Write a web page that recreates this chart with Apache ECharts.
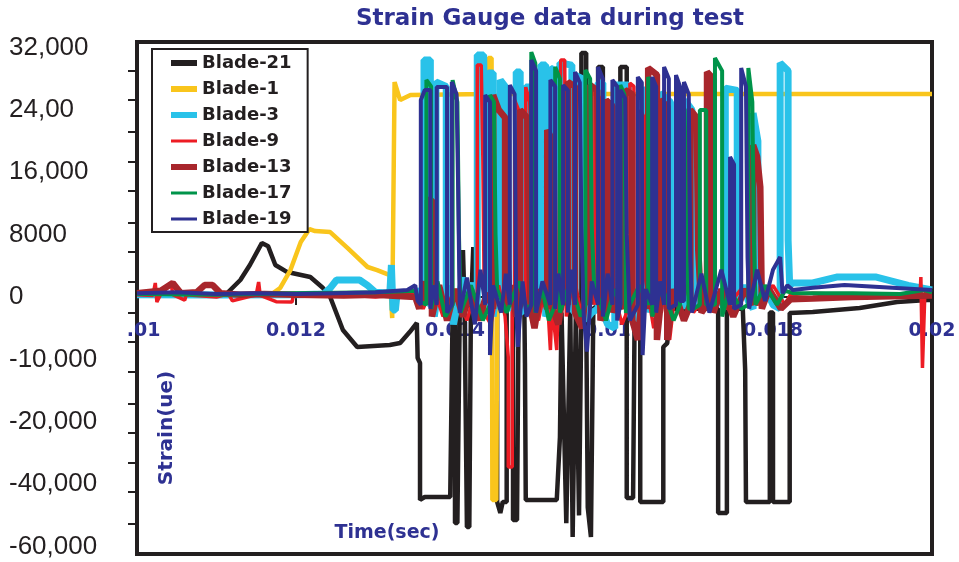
<!DOCTYPE html>
<html>
<head>
<meta charset="utf-8">
<title>Strain Gauge data during test</title>
<script src="https://cdn.jsdelivr.net/npm/echarts@6.0.0/dist/echarts.min.js"></script>
<style>
  html, body { margin: 0; padding: 0; background: #fff; }
  #chart { width: 959px; height: 562px; }
</style>
</head>
<body>
<div id="chart"></div>
<script>
// tick labels as printed on the original figure
var yLabelValues = [32000, 24000, 16000, 8000, 0, -8000, -16000, -24000, -32000];
var yLabelText = ['32,000', '24,00', '16,000', '8000', '0', '-10,000', '-20,000', '-40,000', '-60,000'];
var yTickValues = [28970, 25250, 21150, 17310, 13590, 9490, 5770, 1920, -2050, -5770, -9620, -13720, -17440, -21280, -25000, -29100];
var xTickLabels = ['.01', '0.012', '0.014', '0.016', '0.018', '0.02'];

var seriesNames = ['Blade-21', 'Blade-1', 'Blade-3', 'Blade-9', 'Blade-13', 'Blade-17', 'Blade-19'];

// [time (s), strain]
var blade21 = [
  [0.01000, 250], [0.01029, 300], [0.01054, 150], [0.01079, 250], [0.01111, 260], [0.01130, 2180], [0.01142, 4100],
  [0.01157, 6920], [0.01165, 6500], [0.01174, 4100], [0.01189, 3200], [0.01218, 2560], [0.01234, 1150], [0.01243, 0],
  [0.01259, -4230], [0.01277, -6410], [0.01318, -6150], [0.01331, -5900], [0.01343, -4490], [0.01352, -3330],
  [0.01353, -7820], [0.01356, -8460], [0.01356, -26020], [0.01362, -25640], [0.01394, -25640], [0.01397, -2000],
  [0.01400, -2000], [0.01400, -28970], [0.01403, -28970], [0.01406, -1500], [0.01410, 6030], [0.01412, -1000],
  [0.01415, -29490], [0.01418, -29490], [0.01420, -1500], [0.01423, 6410], [0.01426, -1000], [0.01444, -1500],
  [0.01453, -1500], [0.01453, -26280], [0.01457, -27690], [0.01460, -26280], [0.01465, -26280], [0.01465, 9870],
  [0.01470, -1500], [0.01473, -1500], [0.01473, -28590], [0.01478, -28590], [0.01480, -1500], [0.01486, 9490],
  [0.01488, -8460], [0.01489, -26020], [0.01528, -26020], [0.01532, -17950], [0.01534, -2000], [0.01540, -29000],
  [0.01545, -1500], [0.01548, -30770], [0.01552, -2000], [0.01556, -28000], [0.01559, -1500], [0.01559, 31280],
  [0.01565, 31280], [0.01565, -1500], [0.01567, -27000], [0.01571, -30770], [0.01574, -1500],
  [0.01580, -1000], [0.01580, 29490], [0.01586, 29490], [0.01586, -1000], [0.01608, -1500],
  [0.01608, 29490], [0.01616, 29490], [0.01616, -25770], [0.01624, -25770], [0.01626, -1500], [0.01633, -1500],
  [0.01633, -26280], [0.01662, -26280], [0.01662, -6410], [0.01667, -5900], [0.01670, -1500], [0.01731, -1500],
  [0.01731, -27690], [0.01742, -27690], [0.01742, -1500], [0.01762, -1500], [0.01765, -9360], [0.01766, -26280],
  [0.01796, -26280], [0.01796, -2000], [0.01800, -2000], [0.01800, -26280], [0.01821, -26280], [0.01821, -2050],
  [0.01850, -1920], [0.01909, -1410], [0.01956, -640], [0.01994, -380], [0.02000, -380]
];

var blade1 = [
  [0.01000, 300], [0.01100, 200], [0.01170, 400], [0.01180, 1150], [0.01193, 3460], [0.01206, 7050], [0.01217, 8720],
  [0.01224, 8460], [0.01243, 8330], [0.01265, 6280], [0.01290, 3850], [0.01302, 3460], [0.01318, 2820], [0.01320, 2820],
  [0.01321, -2700], [0.01323, -2700], [0.01324, 27560], [0.01331, 25250], [0.01344, 25900], [0.01440, 26020],
  [0.01442, 30640], [0.01446, 30640], [0.01447, -26020], [0.01452, -26020], [0.01454, 26020], [0.02000, 26020]
];

var blade3 = [
  [0.01000, 300], [0.01100, 250], [0.01200, 300], [0.01235, 400], [0.01243, 1150], [0.01251, 2180], [0.01280, 2180],
  [0.01290, 1500], [0.01300, 600], [0.01318, 500], [0.01320, 4100], [0.01322, -1670], [0.01325, -1670], [0.01327, 300],
  [0.01345, 500], [0.01355, 800],
  [0.01361, -800], [0.01361, 30380], [0.01369, 30380], [0.01369, -1200], [0.01372, 2000], [0.01374, -2500],
  [0.01376, -1000], [0.01376, 27560], [0.01389, 27000], [0.01389, -2000], [0.01393, 1500], [0.01398, -3500],
  [0.01410, 2500], [0.01415, -1000], [0.01422, 1800],
  [0.01428, -1500], [0.01428, 31020], [0.01436, 31020], [0.01438, 20000], [0.01440, -1000],
  [0.01442, -1500], [0.01442, 28720], [0.01448, 28720], [0.01448, -2500], [0.01452, 1000],
  [0.01457, -1500], [0.01457, 27820], [0.01463, 27000], [0.01465, 12000], [0.01467, -1500],
  [0.01477, -1000], [0.01477, 28850], [0.01482, 28850], [0.01482, -2000],
  [0.01489, -1500], [0.01489, 26920], [0.01494, 26920], [0.01494, -1000], [0.01500, -3000], [0.01505, -1000],
  [0.01508, -1500], [0.01508, 29740], [0.01514, 29740], [0.01514, -2500],
  [0.01520, -1000], [0.01520, 29360], [0.01527, 29000], [0.01529, 15000], [0.01530, -2000],
  [0.01532, -1500], [0.01532, 30000], [0.01547, 29740], [0.01547, -1500],
  [0.01551, -2000], [0.01551, 28460], [0.01560, 28000], [0.01562, 10000], [0.01564, -3000], [0.01572, -2000],
  [0.01580, -1500], [0.01580, 27430], [0.01586, 27430], [0.01586, -2000], [0.01592, -3500],
  [0.01601, -4000], [0.01601, 27180], [0.01618, 27180], [0.01618, -1500], [0.01625, -3500], [0.01632, 1000],
  [0.01637, -1000], [0.01637, 26540], [0.01645, 26540], [0.01645, -2000], [0.01652, 1000],
  [0.01658, -1500], [0.01658, 26150], [0.01671, 25000], [0.01671, -1500], [0.01680, 1500],
  [0.01689, -1500], [0.01689, 25250], [0.01698, 24000], [0.01700, 8000], [0.01702, -1000], [0.01710, -1000],
  [0.01720, 1500],
  [0.01740, -1500], [0.01740, 26790], [0.01755, 26500], [0.01755, -1000], [0.01762, 1500], [0.01770, -800],
  [0.01775, -1500], [0.01775, 23590], [0.01781, 20000], [0.01781, -500], [0.01790, 1200], [0.01800, -1000],
  [0.01809, -1500], [0.01809, 30000], [0.01819, 29000], [0.01819, 7300], [0.01821, 1500],
  [0.01825, 1800], [0.01850, 1800], [0.01880, 2560], [0.01930, 2560], [0.01970, 1500], [0.02000, 900]
];

var blade9 = [
  [0.01000, 300], [0.01020, 200], [0.01023, 1800], [0.01025, -640], [0.01030, 400], [0.01043, 1800], [0.01045, 300],
  [0.01060, -400], [0.01062, 300], [0.01100, 0], [0.01115, 400], [0.01120, -500], [0.01150, 300], [0.01153, 1920],
  [0.01155, 200], [0.01175, -600], [0.01195, -640], [0.01197, 300], [0.01230, 100], [0.01260, 300], [0.01300, 0],
  [0.01340, 400], [0.01350, 500], [0.01360, -1500], [0.01372, 1500], [0.01385, -2500], [0.01400, 1000],
  [0.01415, -3000], [0.01425, 500],
  [0.01428, -1000], [0.01428, 29740], [0.01433, 29740], [0.01435, 18000], [0.01437, -2000], [0.01445, -3500],
  [0.01455, 1500], [0.01463, -2500], [0.01467, -7700], [0.01467, -21800], [0.01472, -21800], [0.01472, -2000],
  [0.01475, -1000], [0.01475, 25250], [0.01480, 24000], [0.01480, 1500],
  [0.01489, -1000], [0.01489, 26920], [0.01494, 25000], [0.01496, 16000], [0.01498, -1500],
  [0.01505, -3000], [0.01515, 2000], [0.01520, -6800], [0.01522, -1000], [0.01528, -6800], [0.01530, -500],
  [0.01533, 30380], [0.01538, 30380], [0.01540, -2500], [0.01550, 2500], [0.01560, -3000], [0.01570, 3000],
  [0.01576, -1000], [0.01576, 26540], [0.01582, 25500], [0.01584, -2500], [0.01598, 1500], [0.01610, -3500],
  [0.01620, -1000], [0.01620, 27430], [0.01625, 27000], [0.01625, -2000],
  [0.01633, -1000], [0.01633, 24000], [0.01638, 23000], [0.01640, 2000], [0.01650, -4000], [0.01660, 1500],
  [0.01670, -5500], [0.01675, -1000], [0.01690, 1500], [0.01700, -2000], [0.01720, 1000], [0.01740, -1500],
  [0.01760, 1000], [0.01780, -1000], [0.01800, 1500], [0.01815, -1000],
  [0.01822, 300], [0.01850, 500], [0.01900, 300], [0.01950, 200], [0.01985, 300], [0.01986, 2560],
  [0.01988, -9100], [0.01990, -9100], [0.01991, 500], [0.02000, 500]
];

var blade13 = [
  [0.01000, 500], [0.01030, 800], [0.01045, 1800], [0.01055, 500], [0.01075, 600], [0.01085, 1540], [0.01095, 1540],
  [0.01105, 500], [0.01130, 300], [0.01160, 400], [0.01200, 300], [0.01260, 200], [0.01300, 300], [0.01350, 0],
  [0.01355, -1500], [0.01362, 2000],
  [0.01366, -1000], [0.01366, 12440], [0.01371, 12440], [0.01371, -2500], [0.01380, 1500], [0.01390, -3000],
  [0.01400, 1000], [0.01410, -2500], [0.01420, 1000], [0.01430, -3000], [0.01440, 500],
  [0.01448, -1500], [0.01448, 25900], [0.01455, 24000], [0.01463, 23000], [0.01463, -2000], [0.01470, 1500],
  [0.01477, -2500],
  [0.01482, -1000], [0.01482, 23970], [0.01491, 23000], [0.01493, 8000], [0.01495, -1500], [0.01500, -4000],
  [0.01508, 1000],
  [0.01516, -1500], [0.01516, 21410], [0.01523, 20000], [0.01523, -1500], [0.01530, -3500], [0.01537, 1000],
  [0.01542, -1000], [0.01542, 27560], [0.01551, 27000], [0.01551, -2000], [0.01560, -4000], [0.01565, 1500],
  [0.01570, -1000], [0.01570, 27180], [0.01579, 26500], [0.01581, 12000], [0.01583, -3000],
  [0.01590, -1000], [0.01590, 25250], [0.01598, 24500], [0.01598, -2000], [0.01605, 1000],
  [0.01614, -1500], [0.01614, 26540], [0.01623, 26000], [0.01623, -3000], [0.01630, -5500], [0.01636, 1000],
  [0.01643, -1500], [0.01643, 29360], [0.01654, 28500], [0.01654, -5500],
  [0.01658, -1500], [0.01658, 25250], [0.01667, 24500], [0.01667, -5500], [0.01675, 1000], [0.01688, -3000],
  [0.01696, -1000], [0.01696, 24000], [0.01704, 23000], [0.01706, 6000], [0.01710, -2000],
  [0.01717, -1000], [0.01717, 28850], [0.01725, 28000], [0.01725, -2000], [0.01735, 1000], [0.01750, -2500],
  [0.01765, 1000], [0.01775, -1000], [0.01775, 19490], [0.01780, 18000], [0.01784, 14100], [0.01786, -1500],
  [0.01795, 1000], [0.01810, -1500],
  [0.01822, -300], [0.01850, -200], [0.01900, 0], [0.01950, 100], [0.02000, 200]
];

var blade17 = [
  [0.01000, 400], [0.01100, 300], [0.01200, 500], [0.01300, 600], [0.01350, 800], [0.01355, -500],
  [0.01364, -1000], [0.01364, 27820], [0.01370, 27000], [0.01370, -1500], [0.01378, 2000], [0.01388, -2500],
  [0.01397, -1000], [0.01397, 27820], [0.01403, 25000], [0.01405, 8000], [0.01407, -2000], [0.01420, 1500],
  [0.01435, -3000],
  [0.01444, -1000], [0.01444, 25900], [0.01449, 25000], [0.01451, 8000], [0.01453, 1000], [0.01465, -2000],
  [0.01480, 2000], [0.01490, -1500],
  [0.01496, -1000], [0.01496, 31410], [0.01501, 30000], [0.01501, -2000], [0.01510, 1000], [0.01518, -3000],
  [0.01526, -1000], [0.01526, 29490], [0.01532, 28000], [0.01532, -2000], [0.01545, 2000], [0.01558, -2500],
  [0.01564, -1000], [0.01564, 29100], [0.01570, 28000], [0.01572, 9000], [0.01575, 1500], [0.01590, -3000],
  [0.01600, 1000],
  [0.01608, -1000], [0.01608, 27180], [0.01613, 26000], [0.01615, -2000], [0.01632, 1500],
  [0.01643, -1000], [0.01643, 28200], [0.01648, 27000], [0.01648, -2500], [0.01660, 1500], [0.01675, -3000],
  [0.01683, -1000], [0.01683, 25250], [0.01689, 24000], [0.01691, 6000], [0.01694, -1500], [0.01700, -1500],
  [0.01708, -1000], [0.01708, 23970], [0.01716, 23970], [0.01716, -1000],
  [0.01727, -1000], [0.01727, 30640], [0.01736, 29000], [0.01736, -2500], [0.01745, 1000], [0.01760, -1500],
  [0.01769, -1000], [0.01769, 29360], [0.01774, 25000], [0.01776, 7300], [0.01778, -1000], [0.01790, 1500],
  [0.01805, -1000], [0.01815, 800],
  [0.01825, 500], [0.01900, 500], [0.01960, 400], [0.01990, 900], [0.02000, 600]
];

var blade19 = [
  [0.01000, 500], [0.01050, 600], [0.01100, 400], [0.01150, 500], [0.01200, 400], [0.01250, 500], [0.01300, 600],
  [0.01340, 900], [0.01350, 1500], [0.01353, -500],
  [0.01357, -1000], [0.01357, 25250], [0.01362, 26540], [0.01369, 26540], [0.01369, -1500], [0.01373, 1500],
  [0.01377, -1000], [0.01377, 26920], [0.01390, 26920], [0.01390, -2000],
  [0.01396, -1000], [0.01396, 27560], [0.01402, 26000], [0.01404, 13700], [0.01406, -2000], [0.01415, 2500],
  [0.01425, -3500], [0.01432, 3500],
  [0.01438, -1000], [0.01438, 25900], [0.01444, 25000], [0.01444, -7440], [0.01448, 1500], [0.01458, -2000],
  [0.01464, 3000],
  [0.01469, -1000], [0.01469, 27180], [0.01475, 26000], [0.01477, -1500], [0.01479, -6400], [0.01485, 2000],
  [0.01490, -2500],
  [0.01496, -1000], [0.01496, 30380], [0.01502, 29000], [0.01502, -2000], [0.01510, 2000],
  [0.01520, -1000], [0.01520, 27820], [0.01526, 27000], [0.01526, -1500], [0.01530, 3000],
  [0.01536, -1000], [0.01536, 27180], [0.01542, 26500], [0.01542, -2000], [0.01547, 3500],
  [0.01551, -1000], [0.01551, 28850], [0.01557, 27500], [0.01559, 9000], [0.01562, -2500], [0.01566, -7000],
  [0.01572, 2000],
  [0.01580, -1000], [0.01580, 29490], [0.01586, 28000], [0.01586, -2500], [0.01592, 3000],
  [0.01598, -1000], [0.01598, 27820], [0.01604, 27000], [0.01604, -3000],
  [0.01608, -1000], [0.01608, 26540], [0.01614, 25500], [0.01616, 8000], [0.01620, -3000],
  [0.01630, -1000], [0.01630, 28200], [0.01635, 27500], [0.01636, -7440], [0.01640, 1000],
  [0.01648, -1000], [0.01648, 28200], [0.01653, 27000], [0.01653, -2000], [0.01658, 2000],
  [0.01663, -1000], [0.01663, 29490], [0.01669, 28000], [0.01669, -1500],
  [0.01678, -1000], [0.01678, 28460], [0.01683, 27000], [0.01683, -500],
  [0.01688, -500], [0.01688, 27560], [0.01694, 26000], [0.01696, 5000], [0.01698, -2000], [0.01710, 3000],
  [0.01720, -2000], [0.01735, 3500], [0.01746, -1000], [0.01746, 17950], [0.01751, 17000], [0.01751, -1500],
  [0.01760, -1000], [0.01760, 29360], [0.01766, 27000], [0.01768, 5000], [0.01770, -1500], [0.01780, 3500],
  [0.01790, -500], [0.01800, 3500], [0.01809, 5130], [0.01812, 500], [0.01818, 1500],
  [0.01825, 900], [0.01850, 1200], [0.01890, 1540], [0.01950, 1200], [0.02000, 900]
];

var seriesData = [blade21, blade1, blade3, blade9, blade13, blade17, blade19];
var seriesColors = ['#231f20', '#f9c51c', '#29c2e9', '#ed1c24', '#a8262c', '#00944a', '#2e3192'];
var lineWidths = [4.5, 4.5, 7, 3.5, 6.5, 4, 4];
// legend swatches: thick bar or thin bar, drawn in a 26x20 box
var thickIcon = 'path://M0,0L0,20ZM0,7H26V13H0Z';
var thinIcon = 'path://M0,0L0,20ZM0,8.5H26V11.5H0Z';
var legendIcons = [thickIcon, thickIcon, thickIcon, thinIcon, thickIcon, thinIcon, thinIcon];

var blue = '#2e3192';
var chart = echarts.init(document.getElementById('chart'));

var series = [];
var legendData = [];
for (var i = 0; i < seriesNames.length; i++) {
  series.push({
    name: seriesNames[i],
    type: 'line',
    data: seriesData[i],
    symbol: 'none',
    smooth: false,
    color: seriesColors[i],
    lineStyle: { width: lineWidths[i], color: seriesColors[i] }
  });
  legendData.push({ name: seriesNames[i], icon: legendIcons[i], itemStyle: { color: seriesColors[i], borderWidth: 0 } });
}

var option = {
  animation: false,
  backgroundColor: '#fff',
  grid: {
    left: 137, right: 27, top: 42, bottom: 8,
    outerBoundsMode: 'none', containLabel: false,
    show: true, borderColor: '#231f20', borderWidth: 4, backgroundColor: 'transparent'
  },
  legend: {
    orient: 'vertical',
    left: 152, top: 49,
    data: legendData,
    itemWidth: 26, itemHeight: 20, itemGap: 6,
    symbolKeepAspect: false,
    padding: [4, 16, 3, 19],
    borderColor: '#231f20', borderWidth: 2, backgroundColor: '#fff',
    textStyle: { fontFamily: 'DejaVu Sans', fontWeight: 'bold', fontSize: 18, color: '#231f20', lineHeight: 20 }
  },
  xAxis: {
    type: 'value',
    min: 0.01, max: 0.02, interval: 0.002,
    position: 'bottom',
    offset: -257,
    splitLine: { show: false },
    axisLine: { onZero: false, lineStyle: { color: '#231f20', width: 2 } },
    axisTick: { show: true, length: 8, lineStyle: { color: '#231f20', width: 2 } },
    axisLabel: {
      margin: 25,
      showMinLabel: true, showMaxLabel: true,
      fontFamily: 'DejaVu Sans', fontWeight: 'bold', fontSize: 19, color: blue,
      formatter: function (value, index) {
        var s = xTickLabels[index];
        if (index === 0) return '{h|0}{b|' + s + '}';
        return s;
      },
      rich: {
        h: { fontFamily: 'DejaVu Sans', fontWeight: 'bold', fontSize: 19, color: 'rgba(0,0,0,0)' },
        b: { fontFamily: 'DejaVu Sans', fontWeight: 'bold', fontSize: 19, color: blue }
      }
    }
  },
  yAxis: {
    type: 'value',
    min: -32950, max: 32700,
    splitLine: { show: false },
    axisLine: { show: true, lineStyle: { color: '#231f20', width: 3 } },
    axisTick: {
      show: true, length: 9, inside: false,
      customValues: yTickValues,
      lineStyle: { color: '#231f20', width: 2 }
    },
    axisLabel: {
      customValues: yLabelValues,
      align: 'left', margin: 128,
      fontFamily: 'Liberation Sans', fontSize: 26, color: '#231f20',
      formatter: function (value) {
        var k = yLabelValues.indexOf(value);
        return k >= 0 ? yLabelText[k] : '';
      }
    }
  },
  graphic: [
    {
      type: 'text', x: 550, y: 19,
      style: {
        text: 'Strain Gauge data during test',
        textAlign: 'center', textVerticalAlign: 'middle',
        font: 'bold 23px "DejaVu Sans"', fill: blue
      }
    },
    {
      type: 'text', x: 167, y: 428, rotation: Math.PI / 2,
      style: {
        text: 'Strain(ue)', textAlign: 'center', textVerticalAlign: 'middle',
        font: 'bold 20px "DejaVu Sans"', fill: blue
      }
    },
    {
      type: 'text', x: 387, y: 533,
      style: {
        text: 'Time(sec)', textAlign: 'center', textVerticalAlign: 'middle',
        font: 'bold 19px "DejaVu Sans"', fill: blue
      }
    }
  ],
  series: series
};

chart.setOption(option);
</script>
</body>
</html>
